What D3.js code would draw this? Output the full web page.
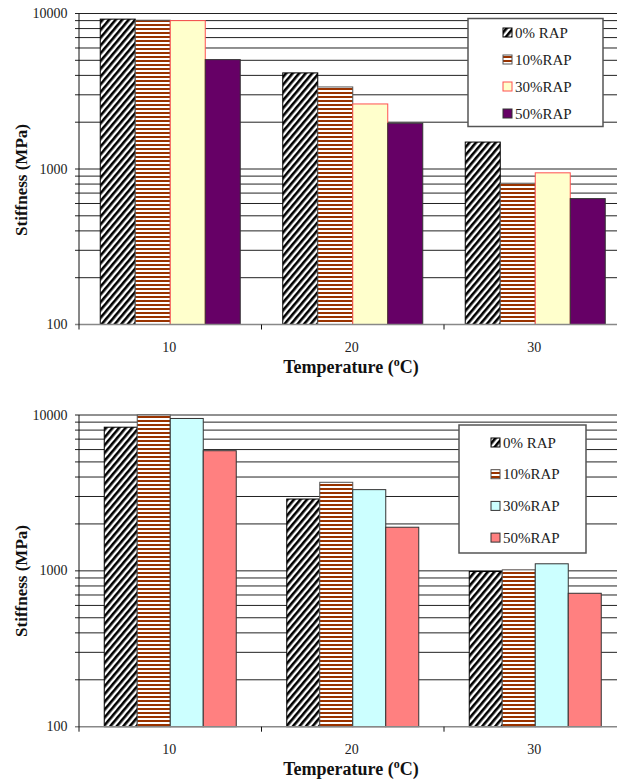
<!DOCTYPE html>
<html>
<head>
<meta charset="utf-8">
<script src="https://cdn.jsdelivr.net/npm/d3@7/dist/d3.min.js"></script>
<style>
  html, body { margin: 0; padding: 0; background: #fff; }
  svg { display: block; }
</style>
</head>
<body>
<svg id="chart" width="617" height="783" font-family="'Liberation Serif', 'DejaVu Serif', 'Times New Roman', serif"></svg>
<script>
// ---- data ----
const categories = ["10", "20", "30"];
const seriesNames = ["0% RAP", "10%RAP", "30%RAP", "50%RAP"];
const yTickLabels = [100, 1000, 10000];

// top chart
const top0 = [9200, 4150, 1490];
const top10 = [9050, 3370, 810];
const top30 = [9000, 2620, 945];
const top50 = [5050, 1970, 645];

// bottom chart
const bot0 = [8350, 2890, 990];
const bot10 = [10000, 3700, 1015];
const bot30 = [9500, 3320, 1110];
const bot50 = [5900, 1905, 718];

const xTitle = "Temperature (";
const yTitle = "Stiffness (MPa)";

const FONT = "'Liberation Serif', 'DejaVu Serif', 'Times New Roman', serif";
const svg = d3.select("#chart");
const defs = svg.append("defs");

// diagonal stripes
const P = 5;
const diag = defs.append("pattern").attr("id", "diag")
  .attr("patternUnits", "userSpaceOnUse").attr("width", P).attr("height", P)
  .attr("patternTransform", "rotate(40)");
diag.append("rect").attr("width", P).attr("height", P).attr("fill", "#fff");
diag.append("rect").attr("width", P * 0.52).attr("height", P).attr("fill", "#000");

// horizontal brown stripes
const hstr = defs.append("pattern").attr("id", "hstr")
  .attr("patternUnits", "userSpaceOnUse").attr("width", 4).attr("height", 4);
hstr.append("rect").attr("width", 4).attr("height", 4).attr("fill", "#fff");
hstr.append("rect").attr("width", 4).attr("height", 2).attr("fill", "#993300");

function drawChart(opts) {
  const g = svg.append("g").attr("font-family", FONT);
  const left = 79, right = 626.5;
  const x0 = d3.scaleBand().domain(categories).range([left, right]).padding(0);
  const pad = opts.groupPad;
  const x1 = d3.scaleBand().domain(seriesNames).range([pad, x0.bandwidth() - pad]).padding(0);
  const y = d3.scaleLog().domain([100, 10000]).range([opts.bottom, opts.top]);

  // gridlines (every log minor tick)
  const gridVals = y.ticks();
  g.append("g").selectAll("line").data(gridVals.filter(v => v > 100)).join("line")
    .attr("x1", left - 4).attr("x2", 617)
    .attr("y1", d => y(d)).attr("y2", d => y(d))
    .attr("stroke", "#222").attr("stroke-width", 1);

  // y axis tick labels
  g.append("g").selectAll("text").data(yTickLabels).join("text")
    .attr("x", 67.5).attr("y", d => y(d) + 4.5)
    .attr("text-anchor", "end").attr("font-size", "14px").attr("fill", "#222")
    .text(d => d);

  // bars
  const data = opts.series.map((vals, i) => ({ name: seriesNames[i], vals, style: opts.styles[i] }));
  data.forEach(s => {
    g.append("g").selectAll("rect").data(s.vals).join("rect")
      .attr("x", (d, j) => x0(categories[j]) + x1(s.name))
      .attr("width", x1.bandwidth())
      .attr("y", d => y(d))
      .attr("height", d => opts.bottom - y(d))
      .attr("fill", s.style.fill)
      .attr("stroke", s.style.stroke)
      .attr("stroke-width", 1);
  });

  // x axis line (100 level)
  g.append("line").attr("x1", left - 4).attr("x2", 617)
    .attr("y1", opts.bottom).attr("y2", opts.bottom)
    .attr("stroke", "#888").attr("stroke-width", 1.5);
  // y axis line
  g.append("line").attr("x1", left).attr("x2", left)
    .attr("y1", opts.top).attr("y2", opts.bottom)
    .attr("stroke", "#111").attr("stroke-width", 1);

  // category tick marks
  const bounds = categories.map(c => x0(c)).concat([right]);
  g.append("g").selectAll("line").data(bounds).join("line")
    .attr("x1", d => d).attr("x2", d => d)
    .attr("y1", opts.bottom).attr("y2", opts.bottom + 5)
    .attr("stroke", "#111").attr("stroke-width", 1);

  // category labels
  g.append("g").selectAll("text").data(categories).join("text")
    .attr("x", d => x0(d) + x0.bandwidth() / 2 - 1)
    .attr("y", opts.bottom + 27)
    .attr("text-anchor", "middle").attr("font-size", "14px").attr("fill", "#222")
    .text(d => d);

  // x title
  const xt = g.append("text").attr("x", 351).attr("y", opts.bottom + 48)
    .attr("text-anchor", "middle").attr("font-size", "18px").attr("font-weight", "bold").attr("fill", "#111");
  xt.append("tspan").text(xTitle);
  xt.append("tspan").attr("dy", -7).attr("font-size", "12px").text("o");
  xt.append("tspan").attr("dy", 7).text("C)");

  // y title
  g.append("text")
    .attr("transform", `translate(27,${opts.yTitleY}) rotate(-90)`)
    .attr("text-anchor", "middle").attr("font-size", "17px").attr("font-weight", "bold").attr("fill", "#111")
    .text(yTitle);

  // legend
  const L = opts.legend;
  g.append("rect").attr("x", L.x).attr("y", L.y).attr("width", L.w).attr("height", L.h)
    .attr("fill", "#fff").attr("stroke", "#555").attr("stroke-width", 1.5);
  data.forEach((s, i) => {
    const cy = L.y + L.first + i * L.step;
    g.append("rect").attr("x", L.sx).attr("y", cy - 4.5).attr("width", 9).attr("height", 9)
      .attr("fill", s.style.fill).attr("stroke", s.style.lstroke || s.style.stroke).attr("stroke-width", 1);
    g.append("text").attr("x", L.sx + 12).attr("y", cy + 5)
      .attr("font-size", "15px").attr("fill", "#222").text(s.name);
  });
}

drawChart({
  top: 13.5, bottom: 324.5, groupPad: 21.25, yTitleY: 180,
  series: [top0, top10, top30, top50],
  styles: [
    { fill: "url(#diag)", stroke: "#000" },
    { fill: "url(#hstr)", stroke: "#555" },
    { fill: "#FFFFCC", stroke: "#FF5050" },
    { fill: "#660066", stroke: "#333" }
  ],
  legend: { x: 468, y: 18.5, w: 135, h: 108, first: 14, step: 27, sx: 503 }
});

drawChart({
  top: 415, bottom: 726.7, groupPad: 25.25, yTitleY: 581,
  series: [bot0, bot10, bot30, bot50],
  styles: [
    { fill: "url(#diag)", stroke: "#000" },
    { fill: "url(#hstr)", stroke: "#555" },
    { fill: "#CCFFFF", stroke: "#333" },
    { fill: "#FF8080", stroke: "#333" }
  ],
  legend: { x: 459, y: 425, w: 127, h: 128, first: 17.5, step: 31.7, sx: 491 }
});
</script>
</body>
</html>
